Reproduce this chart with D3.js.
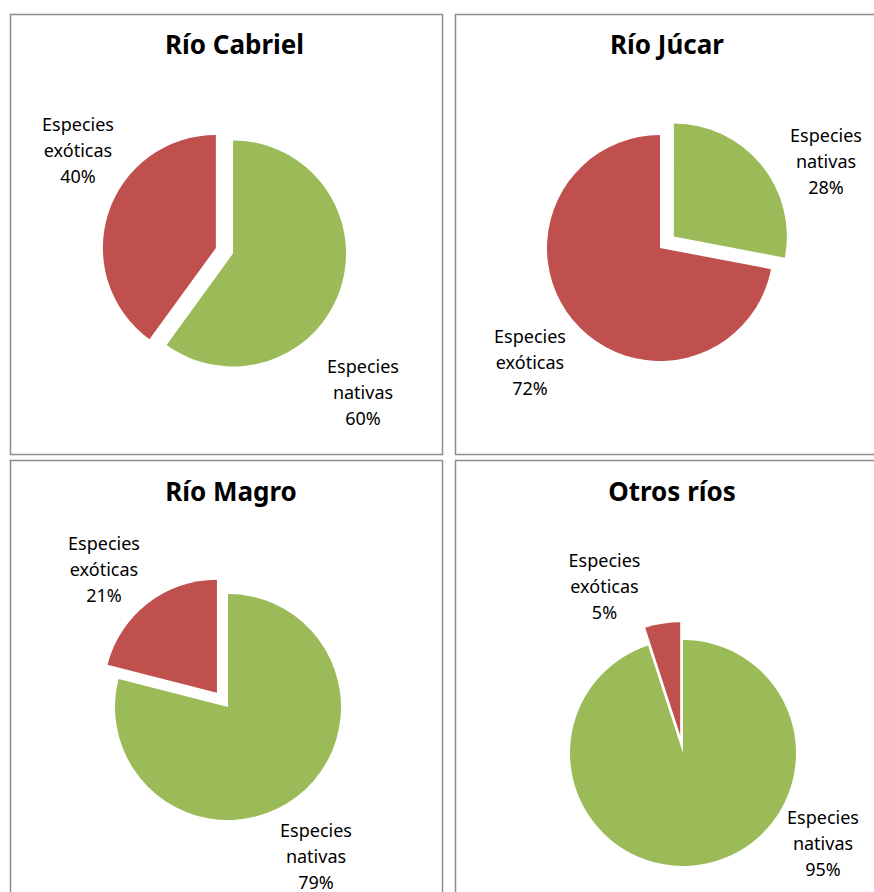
<!DOCTYPE html>
<html>
<head>
<meta charset="utf-8">
<script src="https://cdn.jsdelivr.net/npm/d3@7"></script>
<style>
  html, body { margin: 0; padding: 0; background: #fff; }
  svg { display: block; }
</style>
</head>
<body>
<svg id="chart" width="874" height="892"></svg>
<script>
// ---- data ----
const titles = ["Río Cabriel", "Río Júcar", "Río Magro", "Otros ríos"];
const categories = ["Especies nativas", "Especies exóticas"];
const nativas = [60, 28, 79, 95];
const exoticas = [40, 72, 21, 5];
const explodedSlice = ["Especies exóticas", "Especies nativas", "Especies exóticas", "Especies exóticas"];

// ---- layout ----
const colors = { "Especies nativas": "#9BBB59", "Especies exóticas": "#C0504D" };
const panels = [
  { x: 10.5, y: 14.5, w: 432, h: 440, cx: 233, cy: 253.5, tx: 234.5, ty: 54,
    labels: { "Especies nativas": [363, 373], "Especies exóticas": [78, 130.5] } },
  { x: 455.5, y: 14.5, w: 440, h: 440, cx: 660, cy: 248, tx: 667, ty: 54,
    labels: { "Especies nativas": [826, 142], "Especies exóticas": [530, 343] } },
  { x: 10.5, y: 460.5, w: 432, h: 460, cx: 228, cy: 707, tx: 231, ty: 500.5,
    labels: { "Especies nativas": [316, 837], "Especies exóticas": [104, 550] } },
  { x: 455.5, y: 460.5, w: 440, h: 460, cx: 683, cy: 753, tx: 672, ty: 500.5,
    labels: { "Especies nativas": [823, 824], "Especies exóticas": [604.5, 566.5] } }
];
const R = 113, EXPLODE = 18, LINE = 26;

const svg = d3.select("#chart");
const pie = d3.pie().sort(null).value(d => d.value).startAngle(0).endAngle(2 * Math.PI);
const arc = d3.arc().innerRadius(0).outerRadius(R);

titles.forEach((title, i) => {
  const p = panels[i];
  const g = svg.append("g");
  g.append("rect")
    .attr("x", p.x).attr("y", p.y).attr("width", p.w).attr("height", p.h)
    .attr("fill", "#fff").attr("stroke", "#8c8c8c").attr("stroke-width", 1.5);

  g.append("text")
    .attr("x", p.tx).attr("y", p.ty)
    .attr("text-anchor", "middle")
    .attr("font-family", "'Noto Sans', 'Open Sans', sans-serif")
    .attr("font-weight", "bold").attr("font-size", 26)
    .attr("fill", "#000")
    .text(title);

  const data = categories.map((c, k) => ({ cat: c, value: k === 0 ? nativas[i] : exoticas[i] }));
  const arcs = pie(data);
  const pg = g.append("g").attr("transform", `translate(${p.cx},${p.cy})`);
  pg.selectAll("path").data(arcs).enter().append("path")
    .attr("d", arc)
    .attr("fill", d => colors[d.data.cat])
    .attr("transform", d => {
      if (d.data.cat !== explodedSlice[i]) return null;
      const mid = (d.startAngle + d.endAngle) / 2;
      return `translate(${Math.sin(mid) * EXPLODE},${-Math.cos(mid) * EXPLODE})`;
    });

  arcs.forEach(d => {
    const pos = p.labels[d.data.cat];
    const words = d.data.cat.split(" ");
    const lines = [words[0], words[1], d.data.value + "%"];
    const t = g.append("text")
      .attr("text-anchor", "middle")
      .attr("font-family", "'Noto Sans', 'Open Sans', sans-serif")
      .attr("font-size", 18).attr("fill", "#000");
    lines.forEach((ln, k) => {
      t.append("tspan").attr("x", pos[0]).attr("y", pos[1] + k * LINE).text(ln);
    });
  });
});
</script>
</body>
</html>
